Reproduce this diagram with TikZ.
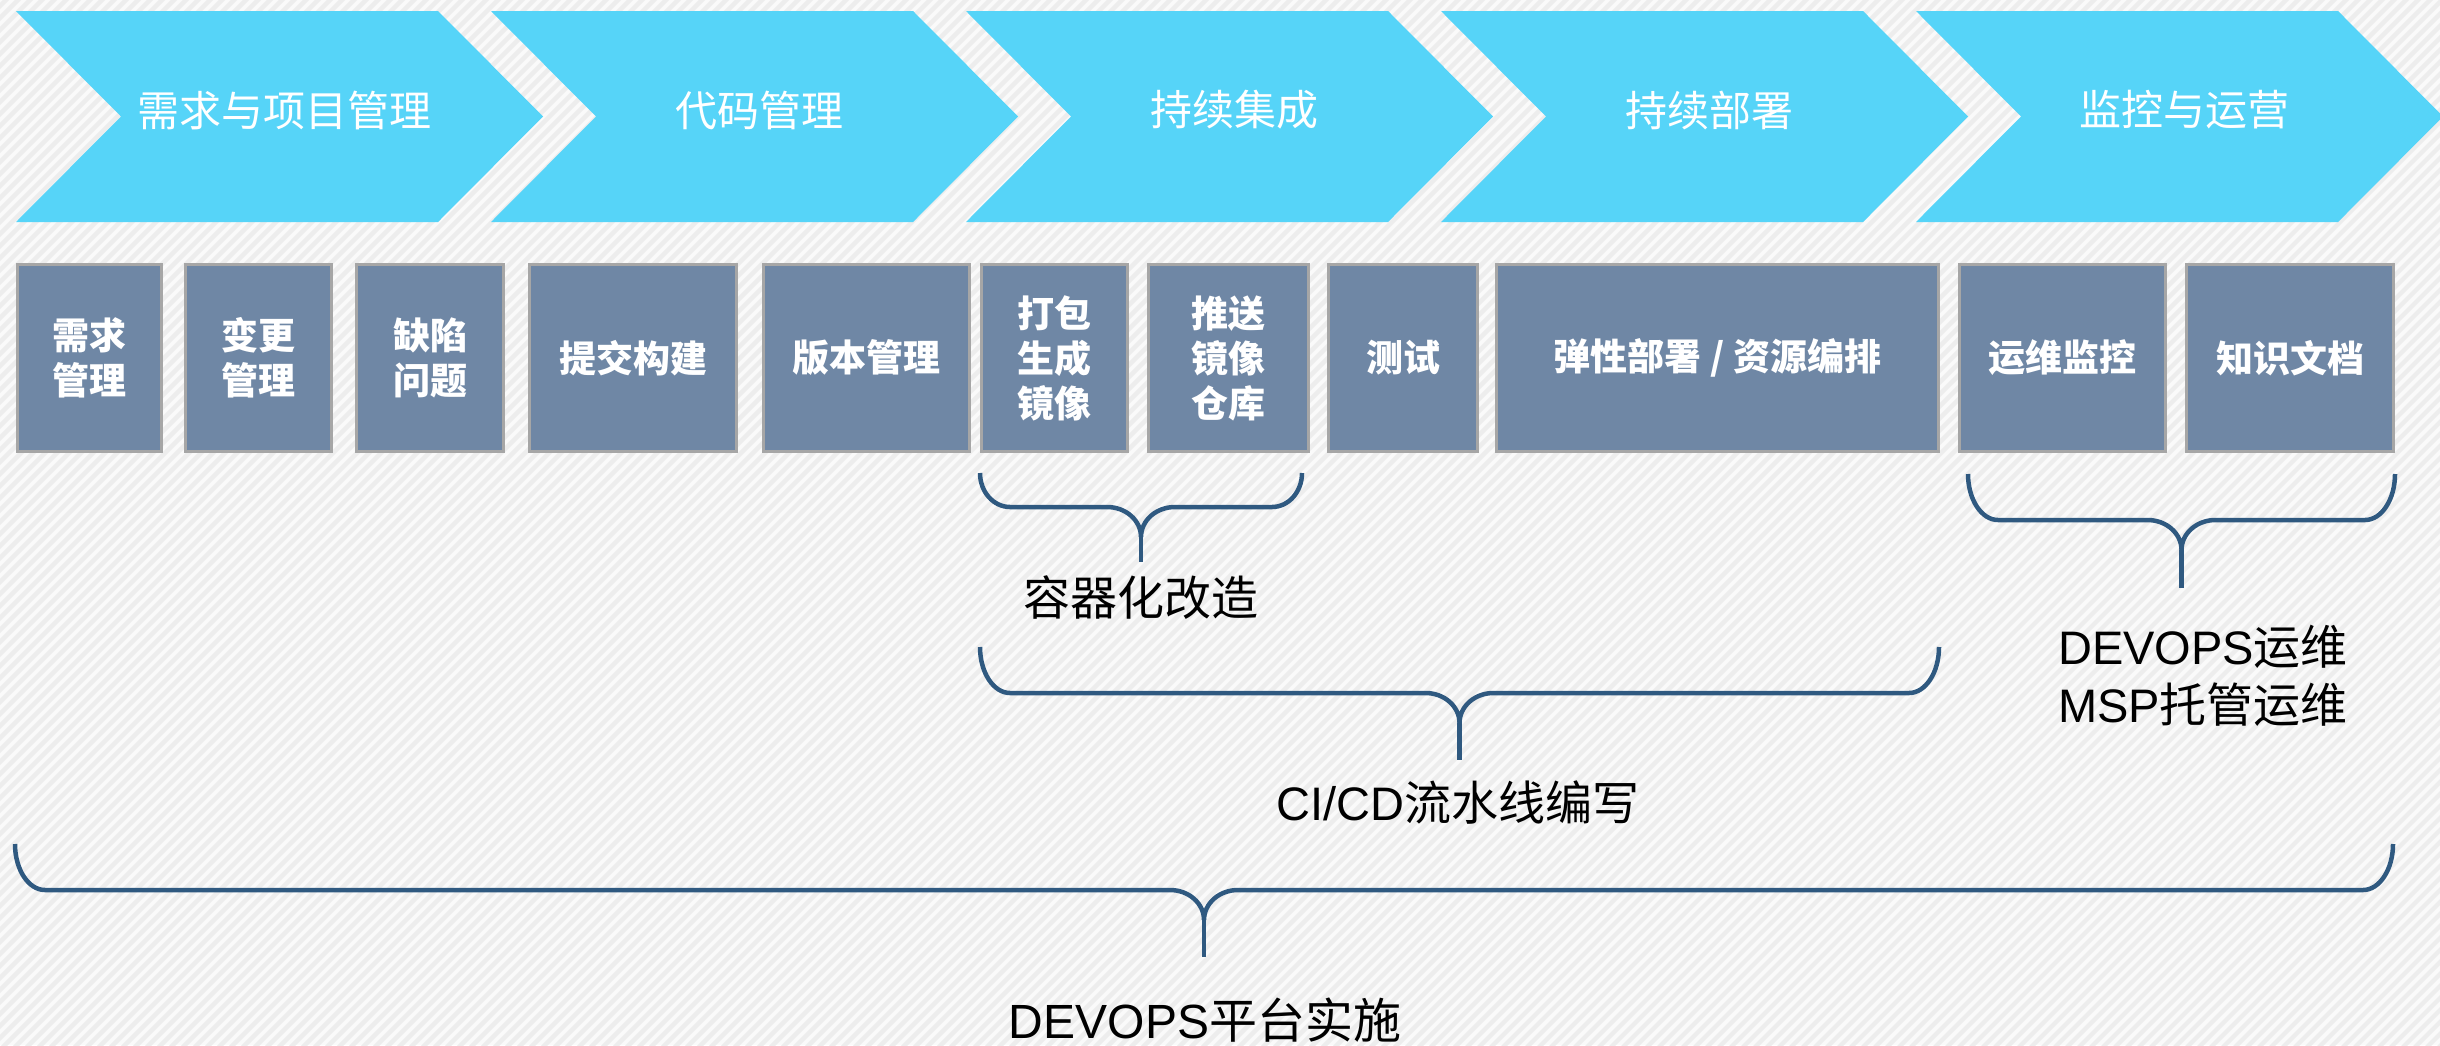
\documentclass[tikz,border=0pt]{standalone}
\usepackage{fontspec}
\setmainfont{Noto Sans CJK SC}
\newfontfamily\cjk{Noto Sans CJK SC}
\newfontfamily\lat{Liberation Sans}
\definecolor{chev}{HTML}{56D4F8}
\definecolor{boxfill}{HTML}{6F87A5}
\definecolor{boxline}{HTML}{A6A6A6}
\definecolor{bracecol}{HTML}{2F5980}
\definecolor{stripecol}{HTML}{EDEDED}
\definecolor{bgcol}{HTML}{FAFAFA}
\tikzset{
  chevtext/.style={text=white, inner sep=0pt, font=\cjk\fontsize{42}{50}\selectfont},
  stagebox/.style={draw=boxline, line width=3pt, fill=boxfill, text=white, align=center,
    inner sep=0pt, outer sep=0pt, font=\cjk\bfseries\fontsize{37}{45}\selectfont},
  brc/.style={draw=bracecol, line width=4.5pt},
  lbl/.style={text=black, inner sep=0pt, align=center, font=\cjk\fontsize{47}{58}\selectfont}
}
\newcommand\stagebx[4]{%
  \node[stagebox, minimum width={#3-#2-3}, minimum height=187] (#1) at ({(#2+#3)/2},358) {#4};}
% brace: L R T H B
\newcommand\bracedraw[5]{%
  \pgfmathsetmacro\bL{#1}\pgfmathsetmacro\bR{#2}%
  \pgfmathsetmacro\bT{#3}\pgfmathsetmacro\bH{#4}\pgfmathsetmacro\bB{#5}%
  \pgfmathsetmacro\bC{(\bL+\bR)/2}%
  \pgfmathsetmacro\bM{\bT+0.552*(\bH-\bT)}%
  \pgfmathsetmacro\bD{\bH+30}%
  \pgfmathsetmacro\bDm{\bH+13.4}%
  \draw[brc] (\bL,\bT) .. controls (\bL,\bM) and (\bL+13.4,\bH) .. (\bL+30,\bH)
    -- (\bC-34,\bH) .. controls (\bC-15.2,\bH) and (\bC,\bDm) .. (\bC,\bD)
    .. controls (\bC,\bDm) and (\bC+15.2,\bH) .. (\bC+34,\bH)
    -- (\bR-30,\bH) .. controls (\bR-13.4,\bH) and (\bR,\bM) .. (\bR,\bT);
  \draw[brc] (\bC,\bD) -- (\bC,\bB);}
\begin{document}
\begin{tikzpicture}[x=1pt,y=-1pt]
\useasboundingbox (0,0) rectangle (2440,1045);
\fill[bgcol] (0,0) rectangle (2440,1045);
\begin{scope}
  \clip (0,0) rectangle (2440,1045);
  \foreach \i in {-88,...,204} {
    \draw[stripecol, line width=4.3pt] (\i*12,1050) -- ++(1060,-1060);
  }
\end{scope}
% chevrons
\foreach \i/\t in {0/需求与项目管理,1/代码管理,2/持续集成,3/持续部署,4/监控与运营} {
  \pgfmathsetmacro\L{16+475*\i}
  \fill[chev] (\L,11) -- (\L+422,11) -- (\L+527,116.5) -- (\L+422,222) -- (\L,222) -- (\L+105,116.5) -- cycle;
  \node[chevtext] (c\i) at (\L+268,110) {\t};
}
% boxes
\stagebx{b1}{16}{163}{需求\\管理}
\stagebx{b2}{184}{333}{变更\\管理}
\stagebx{b3}{355}{505}{缺陷\\问题}
\stagebx{b4}{528}{738}{提交构建}
\stagebx{b5}{762}{971}{版本管理}
\stagebx{b6}{980}{1129}{打包\\生成\\镜像}
\stagebx{b7}{1147}{1310}{推送\\镜像\\仓库}
\stagebx{b8}{1327}{1479}{测试}
\stagebx{b9}{1495}{1940}{弹性部署 / 资源编排}
\stagebx{b10}{1958}{2167}{运维监控}
\stagebx{b11}{2185}{2395}{知识文档}
% braces
\bracedraw{980}{1302}{473}{507}{562}
\bracedraw{980}{1939}{647}{693}{760}
\bracedraw{1968}{2395}{474}{520}{588}
\bracedraw{15}{2393}{844}{890}{957}
% labels
\node[lbl] (l1) at (1141,598) {容器化改造};
\node[lbl] (l2) at (1458,803) {{\lat CI/CD}流水线编写};
\node[lbl] (l3) at (2203,676) {{\lat DEVOPS}运维\\{\lat MSP}托管运维};
\node[lbl, font=\cjk\fontsize{48}{58}\selectfont] (l4) at (1205,1020) {{\lat DEVOPS}平台实施};
\end{tikzpicture}
\end{document}
